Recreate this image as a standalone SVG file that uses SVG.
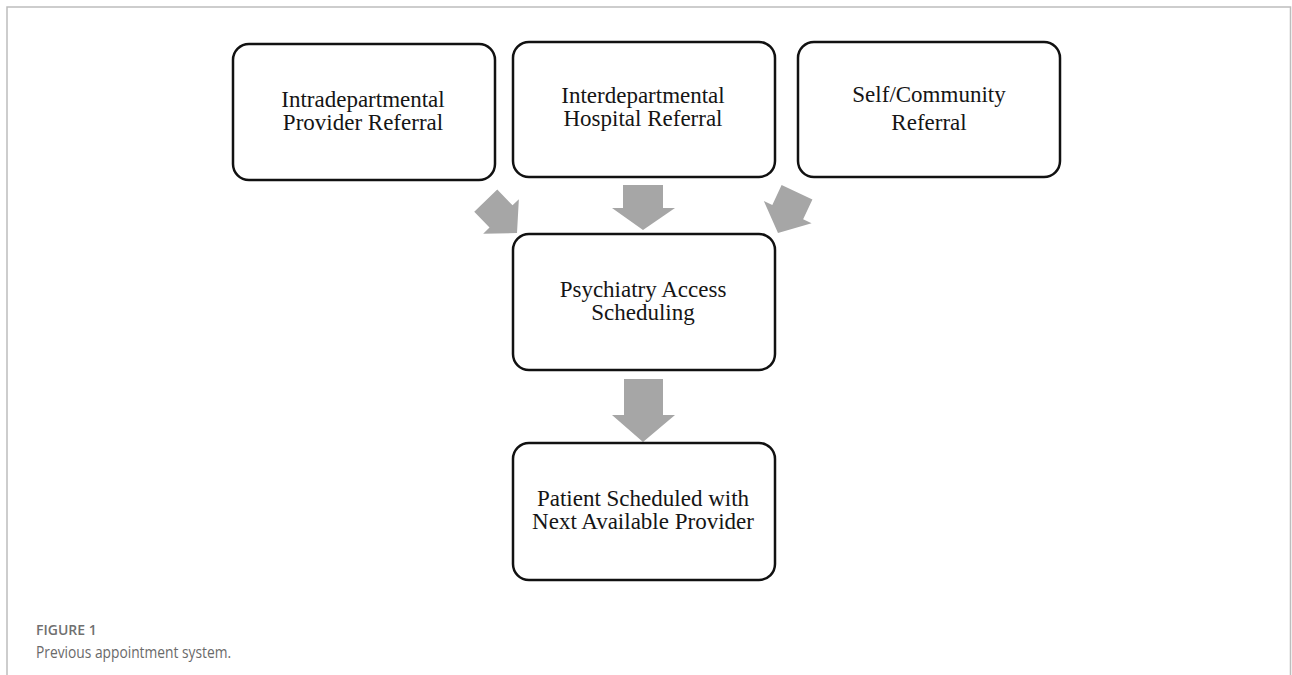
<svg xmlns="http://www.w3.org/2000/svg" width="1292" height="675" viewBox="0 0 1292 675">
  <defs>
    <style>
      .box { fill: #ffffff; stroke: #111111; stroke-width: 2.5; }
      .lbl { font-family: "Liberation Serif", "Times New Roman", serif; font-size: 23px; fill: #151515; text-anchor: middle; }
      .arrow { fill: #a6a6a6; stroke: none; }
      .frame { stroke: #bdbdbd; stroke-width: 1.5; fill: none; }
      .caphead { font-family: "Open Sans", "Liberation Sans", sans-serif; font-size: 14px; font-weight: 600; fill: #707070; }
      .captext { font-family: "Open Sans", "Liberation Sans", sans-serif; font-size: 17px; fill: #6a6a6a; }
    </style>
    <path id="diagArrow" d="M-20,-45 H20 V-23 H31 L0,0 L-31,-23 H-20 Z"/>
  </defs>
  <rect x="0" y="0" width="1292" height="675" fill="#ffffff"/>
  <g id="frame">
    <path class="frame" d="M7,675 V7 H1290.5 V675"/>
  </g>

  <g id="connectors">
    <use href="#diagArrow" class="arrow" transform="translate(517,233) rotate(-44) scale(0.8,1)"/>
    <path class="arrow" d="M623,185 H663 V208 H675 L643,230 L612,208 H623 Z"/>
    <use href="#diagArrow" class="arrow" transform="translate(778,233) rotate(25) scale(0.85,1)"/>
    <path class="arrow" d="M624,379 H663 V415 H675 L643,442 L612,415 H624 Z"/>
  </g>

  <g id="node-intra">
    <rect class="box" x="233" y="44" width="262" height="136" rx="16"/>
    <text class="lbl" x="363" y="107">Intradepartmental</text>
    <text class="lbl" x="363" y="130">Provider Referral</text>
  </g>
  <g id="node-inter">
    <rect class="box" x="513" y="42" width="262" height="135" rx="16"/>
    <text class="lbl" x="643" y="103">Interdepartmental</text>
    <text class="lbl" x="643" y="126">Hospital Referral</text>
  </g>
  <g id="node-self">
    <rect class="box" x="798" y="42" width="262" height="135" rx="16"/>
    <text class="lbl" x="929" y="102">Self/Community</text>
    <text class="lbl" x="929" y="130">Referral</text>
  </g>
  <g id="node-psych">
    <rect class="box" x="513" y="234" width="262" height="136" rx="16"/>
    <text class="lbl" x="643" y="297">Psychiatry Access</text>
    <text class="lbl" x="643" y="320">Scheduling</text>
  </g>
  <g id="node-patient">
    <rect class="box" x="513" y="443" width="262" height="137" rx="16"/>
    <text class="lbl" x="643" y="506">Patient Scheduled with</text>
    <text class="lbl" x="643" y="529">Next Available Provider</text>
  </g>

  <g id="caption">
    <text class="caphead" x="36" y="635">FIGURE 1</text>
    <text class="captext" x="36" y="658" textLength="195" lengthAdjust="spacingAndGlyphs">Previous appointment system.</text>
  </g>
</svg>
